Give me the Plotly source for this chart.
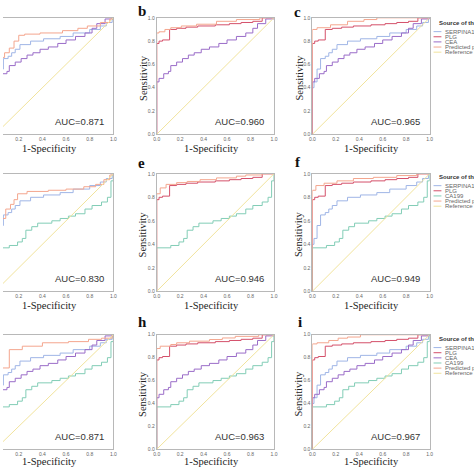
import plotly.graph_objects as go

W = H = 474

# ---------------- data ----------------
PANEL_LETTERS = ["a", "b", "c", "d", "e", "f", "g", "h", "i"]
AUC_VALUES = [0.871, 0.960, 0.965, 0.830, 0.946, 0.949, 0.871, 0.963, 0.967]
PANEL_MARKERS = [
    ["SERPINA1", "CEA"],
    ["PLG", "CEA"],
    ["SERPINA1", "PLG", "CEA"],
    ["SERPINA1", "CA199"],
    ["PLG", "CA199"],
    ["SERPINA1", "PLG", "CA199"],
    ["SERPINA1", "CEA", "CA199"],
    ["PLG", "CEA", "CA199"],
    ["SERPINA1", "PLG", "CEA", "CA199"],
]
LEGEND_ROWS = [
    ["SERPINA1", "PLG", "CEA"],
    ["SERPINA1", "PLG", "CA199"],
    ["SERPINA1", "PLG", "CEA", "CA199"],
]
LEGEND_TITLE = "Source of the Curve"
PRED_NAME = "Predicted probability"
REF_NAME = "Reference line"

TICK_VALUES = [0.0, 0.2, 0.4, 0.6, 0.8, 1.0]
TICK_LABELS = ["0.0", "0.2", "0.4", "0.6", "0.8", "1.0"]

SERPINA1_FPR = [0, 0, 0.014, 0.04, 0.07, 0.11, 0.14, 0.17, 0.21, 0.30, 0.41, 0.55, 0.66, 0.80, 0.89, 0.94, 0.99, 1.0]
SERPINA1_TPR = [0, 0.40, 0.45, 0.56, 0.65, 0.67, 0.70, 0.73, 0.77, 0.80, 0.82, 0.84, 0.87, 0.90, 0.93, 0.96, 1.0, 1.0]

PLG_FPR = [0, 0, 0.02, 0.05, 0.11, 0.17, 0.25, 0.35, 0.50, 0.62, 0.72, 0.82, 0.90, 1.0]
PLG_TPR = [0, 0.78, 0.80, 0.81, 0.90, 0.91, 0.92, 0.93, 0.94, 0.95, 0.96, 0.97, 1.0, 1.0]

CEA_FPR = [0, 0, 0.02, 0.06, 0.10, 0.12, 0.17, 0.22, 0.27, 0.32, 0.38, 0.45, 0.53, 0.60, 0.68, 0.76, 0.82, 0.86, 0.93, 1.0]
CEA_TPR = [0, 0.45, 0.48, 0.52, 0.54, 0.59, 0.62, 0.65, 0.68, 0.70, 0.73, 0.75, 0.78, 0.81, 0.84, 0.87, 0.91, 0.95, 0.99, 1.0]

CA199_FPR = [0, 0, 0.12, 0.19, 0.23, 0.26, 0.31, 0.36, 0.48, 0.55, 0.62, 0.68, 0.76, 0.82, 0.90, 0.95, 0.98, 1.0]
CA199_TPR = [0, 0.37, 0.39, 0.42, 0.45, 0.52, 0.55, 0.58, 0.60, 0.62, 0.64, 0.66, 0.70, 0.73, 0.76, 0.80, 0.94, 1.0]

PRED_A_FPR = [0, 0, 0.02, 0.04, 0.06, 0.08, 0.12, 0.16, 0.20, 0.25, 0.38, 0.57, 0.70, 0.78, 0.89, 0.97, 1.0]
PRED_A_TPR = [0, 0.38, 0.50, 0.60, 0.66, 0.70, 0.74, 0.80, 0.85, 0.86, 0.87, 0.89, 0.91, 0.93, 0.96, 0.99, 1.0]
PRED_B_FPR = [0, 0, 0.02, 0.07, 0.12, 0.21, 0.34, 0.51, 0.68, 0.88, 1.0]
PRED_B_TPR = [0, 0.87, 0.88, 0.90, 0.915, 0.93, 0.945, 0.97, 0.985, 1.0, 1.0]
PRED_C_FPR = [0, 0, 0.04, 0.155, 0.30, 0.44, 0.55, 1.0]
PRED_C_TPR = [0, 0.90, 0.915, 0.94, 0.97, 0.985, 1.0, 1.0]
PRED_D_FPR = [0, 0, 0.02, 0.04, 0.06, 0.09, 0.13, 0.16, 0.19, 0.27, 0.45, 0.60, 0.75, 0.85, 0.92, 0.97, 1.0]
PRED_D_TPR = [0, 0.32, 0.45, 0.55, 0.62, 0.70, 0.74, 0.78, 0.83, 0.85, 0.86, 0.87, 0.89, 0.91, 0.95, 0.99, 1.0]
PRED_E_FPR = [0, 0, 0.03, 0.08, 0.17, 0.26, 0.37, 0.51, 0.68, 0.76, 0.90, 1.0]
PRED_E_TPR = [0, 0.83, 0.88, 0.91, 0.925, 0.935, 0.95, 0.965, 0.98, 0.99, 1.0, 1.0]
PRED_F_FPR = [0, 0, 0.03, 0.10, 0.21, 0.35, 0.52, 0.72, 0.89, 1.0]
PRED_F_TPR = [0, 0.86, 0.90, 0.92, 0.94, 0.96, 0.97, 0.985, 1.0, 1.0]
PRED_G_FPR = [0, 0, 0.02, 0.04, 0.06, 0.12, 0.23, 0.40, 0.62, 0.79, 0.90, 0.99, 1.0]
PRED_G_TPR = [0, 0.35, 0.50, 0.62, 0.71, 0.87, 0.90, 0.93, 0.94, 0.96, 0.97, 1.0, 1.0]
PRED_H_FPR = [0, 0, 0.03, 0.12, 0.17, 0.28, 0.45, 0.56, 0.67, 0.87, 1.0]
PRED_H_TPR = [0, 0.88, 0.90, 0.915, 0.93, 0.944, 0.958, 0.972, 0.986, 1.0, 1.0]
PRED_I_FPR = [0, 0, 0.04, 0.14, 0.22, 0.30, 0.41, 1.0]
PRED_I_TPR = [0, 0.92, 0.93, 0.95, 0.97, 0.98, 1.0, 1.0]

REF_FPR = [0, 1]
REF_TPR = [0, 1]

# ---------------- tables built from the arrays ----------------
MARKER_CURVES = {
    "SERPINA1": (SERPINA1_FPR, SERPINA1_TPR),
    "PLG": (PLG_FPR, PLG_TPR),
    "CEA": (CEA_FPR, CEA_TPR),
    "CA199": (CA199_FPR, CA199_TPR),
}
PRED_CURVES = [
    (PRED_A_FPR, PRED_A_TPR), (PRED_B_FPR, PRED_B_TPR), (PRED_C_FPR, PRED_C_TPR),
    (PRED_D_FPR, PRED_D_TPR), (PRED_E_FPR, PRED_E_TPR), (PRED_F_FPR, PRED_F_TPR),
    (PRED_G_FPR, PRED_G_TPR), (PRED_H_FPR, PRED_H_TPR), (PRED_I_FPR, PRED_I_TPR),
]

# ---------------- styles ----------------
COLORS = {
    "SERPINA1": "#9fb5e6",
    "PLG": "#d4506a",
    "CEA": "#9a6cc8",
    "CA199": "#82cdb6",
    "PRED": "#f4a68e",
    "REF": "#f1e39c",
}
FRAME = "#b8b8b8"
SERIF = "Liberation Serif"
SANS = "Liberation Sans"

# panel geometry in pixels
COL_PX = [(-8, 112), (156, 275), (314, 433)]
ROW_PX = [(15, 133), (173, 292), (336, 452)]
XTITLE_CX = [47, 212, 374]
XTITLE_Y = [147, 306, 464]
LETTER_POS = [(-20, 7), (141, 8), (299, 9), (-20, 162), (141, 162), (299, 161), (-20, 323), (142, 323), (301, 323)]
LEGEND_TOP = [20, 176, 340]


def px_x(p):
    return p / W


def px_y(p):
    return 1 - p / H


fig = go.Figure()
annotations = []
shapes = []
layout_axes = {}

for k in range(9):
    r, c = divmod(k, 3)
    L, R = COL_PX[c]
    T, B = ROW_PX[r]
    vis_l = max(L, 0)
    lo = (vis_l - L) / (R - L)
    xa = "x" if k == 0 else f"x{k+1}"
    ya = "y" if k == 0 else f"y{k+1}"
    xkey = "xaxis" if k == 0 else f"xaxis{k+1}"
    ykey = "yaxis" if k == 0 else f"yaxis{k+1}"

    layout_axes[xkey] = dict(
        domain=[px_x(vis_l), px_x(R)], range=[lo, 1.0], anchor=ya,
        showgrid=False, zeroline=False, showline=True, mirror=True,
        linecolor=FRAME, linewidth=1, ticks="",
        tickvals=TICK_VALUES, ticktext=TICK_LABELS,
        tickfont=dict(family=SANS, size=5, color="#666"),
        fixedrange=True,
    )
    ydict = dict(
        domain=[px_y(B), px_y(T)], range=[0, 1.0], anchor=xa,
        showgrid=False, zeroline=False, showline=True,
        linecolor=FRAME, linewidth=1, ticks="",
        tickvals=TICK_VALUES, ticktext=TICK_LABELS,
        tickfont=dict(family=SANS, size=5, color="#666"),
        fixedrange=True,
    )
    if c == 0:
        ydict.update(side="right", mirror=False, showticklabels=False)
    else:
        ydict.update(mirror=True)
    layout_axes[ykey] = ydict

    # marker curves
    for m in PANEL_MARKERS[k]:
        fx, ty = MARKER_CURVES[m]
        fig.add_trace(go.Scatter(
            x=fx, y=ty, mode="lines", xaxis=xa, yaxis=ya,
            line=dict(color=COLORS[m], width=1, shape="hv"),
            showlegend=False, hoverinfo="skip", name=m))
    # predicted probability curve
    fx, ty = PRED_CURVES[k]
    fig.add_trace(go.Scatter(
        x=fx, y=ty, mode="lines", xaxis=xa, yaxis=ya,
        line=dict(color=COLORS["PRED"], width=1, shape="hv"),
        showlegend=False, hoverinfo="skip", name=PRED_NAME))
    # reference line
    fig.add_trace(go.Scatter(
        x=REF_FPR, y=REF_TPR, mode="lines", xaxis=xa, yaxis=ya,
        line=dict(color=COLORS["REF"], width=1),
        showlegend=False, hoverinfo="skip", name=REF_NAME))

    # AUC text
    annotations.append(dict(
        x=0.71, y=0.11, xref=xa, yref=ya, text=f"AUC={AUC_VALUES[k]:.3f}",
        showarrow=False, font=dict(family=SANS, size=9.5, color="#333"),
        xanchor="center", yanchor="middle"))
    # x title
    annotations.append(dict(
        x=px_x(XTITLE_CX[c]), y=px_y(XTITLE_Y[r]), xref="paper", yref="paper",
        text="1-Specificity", showarrow=False,
        font=dict(family=SERIF, size=10.5, color="#222"),
        xanchor="center", yanchor="middle"))
    # y title and panel letter (only for the columns visible in the crop)
    if c > 0:
        annotations.append(dict(
            x=px_x(L - 14), y=px_y((T + B) / 2 + 2), xref="paper", yref="paper",
            text="Sensitivity", showarrow=False, textangle=-90,
            font=dict(family=SERIF, size=10.5, color="#222"),
            xanchor="center", yanchor="middle"))
        lx, ly = LETTER_POS[k]
        annotations.append(dict(
            x=px_x(lx), y=px_y(ly), xref="paper", yref="paper",
            text=f"<b>{PANEL_LETTERS[k]}</b>", showarrow=False,
            font=dict(family=SERIF, size=15, color="#111"),
            xanchor="center", yanchor="middle"))

# manual legends (one per row)
for r in range(3):
    top = LEGEND_TOP[r]
    annotations.append(dict(
        x=px_x(441), y=px_y(top), xref="paper", yref="paper",
        text=f"<b>{LEGEND_TITLE}</b>", showarrow=False,
        font=dict(family=SANS, size=6, color="#333"),
        xanchor="left", yanchor="middle"))
    entries = [(m, COLORS[m]) for m in LEGEND_ROWS[r]] + [(PRED_NAME, COLORS["PRED"]), (REF_NAME, COLORS["REF"])]
    for j, (name, col) in enumerate(entries):
        yy = top + 9 + 5.2 * j
        shapes.append(dict(
            type="line", xref="paper", yref="paper",
            x0=px_x(437), x1=px_x(445), y0=px_y(yy), y1=px_y(yy),
            line=dict(color=col, width=1)))
        annotations.append(dict(
            x=px_x(446.5), y=px_y(yy), xref="paper", yref="paper",
            text=name, showarrow=False,
            font=dict(family=SANS, size=6, color="#666"),
            xanchor="left", yanchor="middle"))

fig.update_layout(
    width=W, height=H, autosize=False,
    margin=dict(l=0, r=0, t=0, b=0, pad=0),
    paper_bgcolor="white", plot_bgcolor="white",
    annotations=annotations, shapes=shapes,
    showlegend=False,
    **layout_axes,
)

fig.write_html(
    "out.html",
    config={"displayModeBar": False},
    post_script="document.body.style.margin='0px';document.body.style.overflow='hidden';",
)
